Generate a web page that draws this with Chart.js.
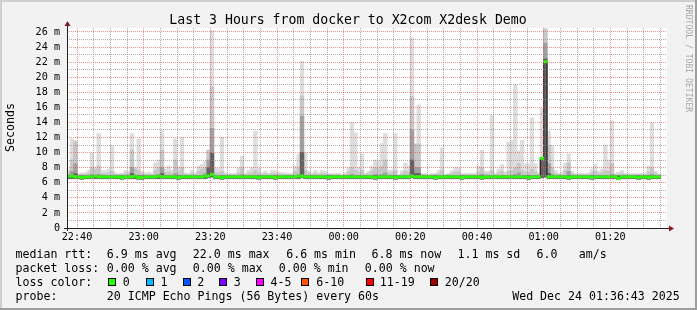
<!DOCTYPE html>
<html>
<head>
<meta charset="utf-8">
<title>Last 3 Hours from docker to X2com X2desk Demo</title>
<script src="https://cdn.jsdelivr.net/npm/chart.js@4.4.1/dist/chart.umd.min.js"></script>
<style>
  html, body { margin: 0; padding: 0; background: #f2f2f2; }
  canvas { display: block; }
</style>
</head>
<body>
<canvas id="smokeChart" width="697" height="310"></canvas>
<script>
'use strict';

// one value per 60 s step, minute 0 = 22:37
const pingMax = [
  7.8, 11.8, 11.6, 7.2, 7.3, 7.3, 7.6, 9.9, 8.1, 12.5,
  7.6, 7.6, 7.8, 10.9, 7.3, 7.2, 7.2, 7.6, 7.5, 12.5,
  8.0, 11.8, 7.5, 7.3, 7.4, 7.2, 8.6, 9.0, 12.9, 7.8,
  8.2, 7.7, 11.8, 8.1, 12.0, 7.3, 7.2, 7.6, 7.3, 8.2,
  8.4, 8.8, 10.3, 26.2, 7.9, 7.9, 12.0, 7.3, 7.2, 7.2,
  7.2, 7.9, 9.5, 7.2, 7.6, 8.0, 12.8, 7.9, 7.3, 7.5,
  7.2, 7.6, 7.6, 7.4, 7.3, 7.3, 7.2, 7.2, 8.2, 9.7,
  22.1, 10.0, 7.5, 7.3, 7.6, 7.3, 7.6, 7.5, 7.2, 7.2,
  7.2, 7.2, 7.0, 7.3, 8.0, 14.0, 12.6, 8.0, 9.8, 7.2,
  7.5, 8.2, 9.0, 9.0, 11.2, 12.5, 7.6, 7.7, 12.5, 7.0,
  7.6, 8.6, 8.2, 25.2, 11.1, 16.3, 7.2, 7.2, 7.1, 7.2,
  7.2, 7.6, 10.6, 7.1, 7.2, 7.6, 8.0, 8.0, 7.2, 7.2,
  7.2, 7.2, 7.2, 8.2, 10.3, 7.5, 7.5, 14.9, 7.2, 7.8,
  8.4, 7.4, 11.4, 11.6, 19.0, 10.2, 11.6, 8.5, 8.5, 14.6,
  8.5, 7.3, 15.9, 26.5, 12.8, 10.9, 7.6, 7.2, 7.4, 8.6,
  9.8, 7.5, 7.2, 7.2, 7.2, 7.2, 7.3, 7.8, 8.4, 7.5,
  7.8, 11.0, 9.0, 14.2, 7.2, 7.4, 7.6, 7.2, 7.2, 7.2,
  7.2, 7.2, 7.2, 7.2, 8.2, 13.9, 7.5, 7.2
];

const pingHigh2 = [
  7.3, 9.0, 11.4, 7.1, 7.1, 7.1, 7.2, 8.0, 7.7, 8.2,
  7.2, 7.2, 7.3, 7.5, 7.1, 7.1, 7.1, 7.2, 7.2, 10.3,
  7.8, 7.6, 7.2, 7.1, 7.1, 7.1, 7.6, 8.0, 10.3, 7.3,
  7.4, 7.2, 9.0, 7.4, 8.0, 7.1, 7.1, 7.2, 7.1, 7.5,
  7.8, 8.0, 10.3, 18.7, 7.3, 7.3, 7.5, 7.1, 7.1, 7.1,
  7.1, 7.3, 8.0, 7.1, 7.2, 7.3, 7.6, 7.3, 7.1, 7.2,
  7.1, 7.2, 7.2, 7.2, 7.1, 7.1, 7.1, 7.1, 7.5, 8.0,
  17.5, 7.6, 7.3, 7.1, 7.2, 7.1, 7.2, 7.2, 7.1, 7.1,
  7.1, 7.1, 7.0, 7.1, 7.4, 8.0, 7.6, 7.3, 7.6, 7.1,
  7.2, 7.5, 8.0, 7.8, 8.2, 9.0, 7.2, 7.3, 7.6, 7.0,
  7.2, 7.5, 7.4, 17.4, 11.1, 11.1, 7.1, 7.1, 7.0, 7.1,
  7.1, 7.2, 7.6, 7.0, 7.1, 7.2, 7.4, 7.4, 7.1, 7.1,
  7.1, 7.1, 7.1, 7.4, 8.0, 7.2, 7.2, 7.6, 7.1, 7.3,
  7.5, 7.1, 7.5, 7.6, 8.0, 8.5, 7.6, 7.4, 7.4, 7.8,
  7.4, 7.1, 9.3, 26.3, 11.0, 8.0, 7.2, 7.1, 7.1, 7.6,
  8.6, 7.2, 7.1, 7.1, 7.1, 7.1, 7.1, 7.3, 7.5, 7.2,
  7.3, 7.6, 7.5, 8.5, 7.1, 7.1, 7.2, 7.1, 7.1, 7.1,
  7.1, 7.1, 7.1, 7.1, 7.4, 8.0, 7.2, 7.1
];

const pingHigh3 = [
  6.95, 7.5, 8.5, 6.95, 6.95, 6.95, 6.95, 7.1, 6.95, 7.1,
  6.95, 6.95, 6.95, 6.95, 6.95, 6.95, 6.95, 6.95, 6.95, 8.0,
  7.0, 6.95, 6.95, 6.95, 6.95, 6.95, 6.95, 7.1, 8.0, 6.95,
  6.95, 6.95, 7.2, 6.95, 7.0, 6.95, 6.95, 6.95, 6.95, 6.95,
  7.0, 7.2, 9.0, 13.2, 6.95, 6.95, 6.95, 6.95, 6.95, 6.95,
  6.95, 6.95, 7.1, 6.95, 6.95, 6.95, 6.95, 6.95, 6.95, 6.95,
  6.95, 6.95, 6.95, 6.95, 6.95, 6.95, 6.95, 6.95, 6.95, 7.1,
  14.8, 6.95, 6.95, 6.95, 6.95, 6.95, 6.95, 6.95, 6.95, 6.95,
  6.95, 6.95, 6.95, 6.95, 6.95, 7.1, 6.95, 6.95, 6.95, 6.95,
  6.95, 6.95, 7.1, 7.0, 7.1, 7.3, 6.95, 6.95, 6.95, 6.95,
  6.95, 6.95, 6.95, 13.0, 8.0, 8.0, 6.95, 6.95, 6.95, 6.95,
  6.95, 6.95, 6.95, 6.95, 6.95, 6.95, 6.95, 6.95, 6.95, 6.95,
  6.95, 6.95, 6.95, 6.95, 7.1, 6.95, 6.95, 6.95, 6.95, 6.95,
  6.95, 6.95, 6.95, 6.95, 7.1, 7.3, 6.95, 6.95, 6.95, 6.95,
  6.95, 6.95, 9.3, 24.5, 8.5, 7.1, 6.95, 6.95, 6.95, 6.95,
  7.5, 6.95, 6.95, 6.95, 6.95, 6.95, 6.95, 6.95, 6.95, 6.95,
  6.95, 6.95, 6.95, 7.1, 6.95, 6.95, 6.95, 6.95, 6.95, 6.95,
  6.95, 6.95, 6.95, 6.95, 6.95, 7.1, 6.95, 6.95
];

const pingHigh4 = [
  6.9, 6.9, 7.2, 6.9, 6.9, 6.9, 6.9, 6.9, 6.9, 6.9,
  6.9, 6.9, 6.9, 6.9, 6.9, 6.9, 6.9, 6.9, 6.9, 7.2,
  6.9, 6.9, 6.9, 6.9, 6.9, 6.9, 6.9, 6.9, 7.2, 6.9,
  6.9, 6.9, 6.9, 6.9, 6.9, 6.9, 6.9, 6.9, 6.9, 6.9,
  6.9, 6.9, 8.0, 9.9, 6.9, 6.9, 6.9, 6.9, 6.9, 6.9,
  6.9, 6.9, 6.9, 6.9, 6.9, 6.9, 6.9, 6.9, 6.9, 6.9,
  6.9, 6.9, 6.9, 6.9, 6.9, 6.9, 6.9, 6.9, 6.9, 6.9,
  10.0, 6.9, 6.9, 6.9, 6.9, 6.9, 6.9, 6.9, 6.9, 6.9,
  6.9, 6.9, 6.9, 6.9, 6.9, 6.9, 6.9, 6.9, 6.9, 6.9,
  6.9, 6.9, 6.9, 6.9, 6.9, 6.9, 6.9, 6.9, 6.9, 6.9,
  6.9, 6.9, 6.9, 9.0, 7.2, 7.2, 6.9, 6.9, 6.9, 6.9,
  6.9, 6.9, 6.9, 6.9, 6.9, 6.9, 6.9, 6.9, 6.9, 6.9,
  6.9, 6.9, 6.9, 6.9, 6.9, 6.9, 6.9, 6.9, 6.9, 6.9,
  6.9, 6.9, 6.9, 6.9, 6.9, 6.9, 6.9, 6.9, 6.9, 6.9,
  6.9, 6.9, 9.3, 22.4, 7.2, 6.9, 6.9, 6.9, 6.9, 6.9,
  6.9, 6.9, 6.9, 6.9, 6.9, 6.9, 6.9, 6.9, 6.9, 6.9,
  6.9, 6.9, 6.9, 6.9, 6.9, 6.9, 6.9, 6.9, 6.9, 6.9,
  6.9, 6.9, 6.9, 6.9, 6.9, 6.9, 6.9, 6.9
];

const pingMin = [
  6.5, 6.5, 6.5, 6.5, 6.4, 6.5, 6.5, 6.5, 6.5, 6.5,
  6.5, 6.5, 6.5, 6.5, 6.5, 6.5, 6.4, 6.5, 6.5, 6.5,
  6.5, 6.4, 6.4, 6.5, 6.5, 6.5, 6.5, 6.5, 6.5, 6.5,
  6.5, 6.5, 6.5, 6.4, 6.5, 6.5, 6.5, 6.5, 6.5, 6.5,
  6.5, 6.5, 6.6, 6.7, 6.5, 6.5, 6.4, 6.5, 6.5, 6.5,
  6.5, 6.5, 6.5, 6.5, 6.5, 6.5, 6.5, 6.4, 6.5, 6.5,
  6.5, 6.5, 6.4, 6.5, 6.5, 6.5, 6.5, 6.5, 6.5, 6.5,
  6.6, 6.5, 6.5, 6.5, 6.5, 6.5, 6.5, 6.5, 6.4, 6.5,
  6.5, 6.5, 6.5, 6.5, 6.5, 6.5, 6.5, 6.5, 6.5, 6.5,
  6.5, 6.5, 6.4, 6.5, 6.5, 6.5, 6.5, 6.5, 6.4, 6.5,
  6.5, 6.5, 6.5, 6.6, 6.5, 6.5, 6.5, 6.5, 6.5, 6.5,
  6.4, 6.5, 6.5, 6.5, 6.5, 6.5, 6.5, 6.5, 6.4, 6.5,
  6.5, 6.5, 6.5, 6.5, 6.4, 6.5, 6.5, 6.5, 6.5, 6.5,
  6.5, 6.5, 6.5, 6.5, 6.5, 6.5, 6.5, 6.5, 6.4, 6.5,
  6.5, 6.5, 6.6, 6.7, 6.5, 6.5, 6.5, 6.5, 6.5, 6.5,
  6.4, 6.5, 6.5, 6.5, 6.5, 6.5, 6.5, 6.4, 6.5, 6.5,
  6.5, 6.5, 6.5, 6.5, 6.5, 6.4, 6.5, 6.5, 6.5, 6.5,
  6.5, 6.4, 6.5, 6.5, 6.4, 6.5, 6.5, 6.5
];

const pingCoreMin = [
  6.6, 6.6, 6.6, 6.6, 6.5, 6.6, 6.6, 6.6, 6.6, 6.6,
  6.6, 6.6, 6.6, 6.6, 6.6, 6.6, 6.5, 6.6, 6.6, 6.6,
  6.6, 6.5, 6.5, 6.6, 6.6, 6.6, 6.6, 6.6, 6.6, 6.6,
  6.6, 6.6, 6.6, 6.5, 6.6, 6.6, 6.6, 6.6, 6.6, 6.6,
  6.6, 6.6, 6.7, 6.8, 6.6, 6.6, 6.5, 6.6, 6.6, 6.6,
  6.6, 6.6, 6.6, 6.6, 6.6, 6.6, 6.6, 6.5, 6.6, 6.6,
  6.6, 6.6, 6.5, 6.6, 6.6, 6.6, 6.6, 6.6, 6.6, 6.6,
  6.7, 6.6, 6.6, 6.6, 6.6, 6.6, 6.6, 6.6, 6.5, 6.6,
  6.6, 6.6, 6.6, 6.6, 6.6, 6.6, 6.6, 6.6, 6.6, 6.6,
  6.6, 6.6, 6.5, 6.6, 6.6, 6.6, 6.6, 6.6, 6.5, 6.6,
  6.6, 6.6, 6.6, 6.7, 6.6, 6.6, 6.6, 6.6, 6.6, 6.6,
  6.5, 6.6, 6.6, 6.6, 6.6, 6.6, 6.6, 6.6, 6.5, 6.6,
  6.6, 6.6, 6.6, 6.6, 6.5, 6.6, 6.6, 6.6, 6.6, 6.6,
  6.6, 6.6, 6.6, 6.6, 6.6, 6.6, 6.6, 6.6, 6.5, 6.6,
  6.6, 6.6, 6.7, 6.8, 6.6, 6.6, 6.6, 6.6, 6.6, 6.6,
  6.5, 6.6, 6.6, 6.6, 6.6, 6.6, 6.6, 6.5, 6.6, 6.6,
  6.6, 6.6, 6.6, 6.6, 6.6, 6.5, 6.6, 6.6, 6.6, 6.6,
  6.6, 6.5, 6.6, 6.6, 6.5, 6.6, 6.6, 6.6
];

const medianRtt = [
  6.9, 6.9, 6.8, 6.8, 6.7, 6.8, 6.8, 6.8, 6.9, 6.8,
  6.8, 6.8, 6.8, 6.8, 6.8, 6.8, 6.7, 6.8, 6.8, 6.8,
  6.9, 6.7, 6.7, 6.8, 6.8, 6.8, 6.8, 6.9, 6.8, 6.8,
  6.8, 6.8, 6.8, 6.7, 6.8, 6.8, 6.8, 6.8, 6.8, 6.8,
  6.8, 6.9, 6.9, 7.1, 6.8, 6.8, 6.7, 6.8, 6.8, 6.8,
  6.8, 6.8, 6.8, 6.8, 6.8, 6.8, 6.8, 6.7, 6.8, 6.8,
  6.8, 6.8, 6.7, 6.8, 6.8, 6.8, 6.8, 6.8, 6.8, 6.9,
  6.9, 6.8, 6.8, 6.8, 6.8, 6.8, 6.8, 6.8, 6.7, 6.8,
  6.8, 6.8, 6.8, 6.8, 6.8, 6.8, 6.8, 6.8, 6.8, 6.8,
  6.8, 6.8, 6.7, 6.8, 6.8, 6.8, 6.8, 6.8, 6.7, 6.8,
  6.8, 6.8, 6.8, 6.9, 6.8, 6.8, 6.8, 6.8, 6.8, 6.8,
  6.7, 6.8, 6.8, 6.8, 6.8, 6.8, 6.8, 6.8, 6.7, 6.8,
  6.8, 6.8, 6.8, 6.8, 6.7, 6.8, 6.8, 6.8, 6.8, 6.8,
  6.8, 6.8, 6.8, 6.8, 6.8, 6.8, 6.8, 6.8, 6.7, 6.8,
  6.8, 6.8, 9.24, 22.05, 6.8, 6.8, 6.8, 6.8, 6.8, 6.8,
  6.7, 6.8, 6.8, 6.8, 6.8, 6.8, 6.8, 6.7, 6.8, 6.8,
  6.8, 6.8, 6.8, 6.8, 6.8, 6.6, 6.8, 6.8, 6.8, 6.8,
  6.8, 6.7, 6.8, 6.8, 6.7, 6.8, 6.8, 6.8
];

// x axis: minutes since 22:37, grid every 5 minutes, labels every 20
const gridMinutes = [3, 8, 13, 18, 23, 28, 33, 38, 43, 48, 53, 58, 63, 68, 73, 78, 83, 88,
  93, 98, 103, 108, 113, 118, 123, 128, 133, 138, 143, 148, 153, 158, 163, 168, 173, 178];
const majorMinutes = [3, 23, 43, 63, 83, 103, 123, 143, 163];
const timeLabels = ['22:40', '23:00', '23:20', '23:40', '00:00', '00:20', '00:40', '01:00', '01:20'];

// y axis: grid every 1 ms, labels every 2 ms
const yGridMs = [0, 1, 2, 3, 4, 5, 6, 7, 8, 9, 10, 11, 12, 13, 14, 15, 16, 17, 18, 19, 20, 21, 22, 23, 24, 25, 26];

const lossColors = ['#26ff00', '#00b8ff', '#0059ff', '#7e00ff', '#ff00ff', '#ff5500', '#ff0000', '#a00000'];
const lossLabels = ['0', '1', '2', '3', '4-5', '6-10', '11-19', '20/20'];

const W = 697, H = 310;
const MONO = '"DejaVu Sans Mono", monospace';
const GRID = 'rgba(143,143,143,0.75)';
const MGRID = 'rgba(222,79,79,0.6)';
const MEDIAN_HALF = 0.13;

const band = (lo, hi) => hi.map((v, i) => ({ x: i + 0.5, y: [lo[i], v] }));
const medianBars = medianRtt.map((v, i) => ({ x: i + 0.5, y: [v - MEDIAN_HALF, v + MEDIAN_HALF] }));
const medianSteps = medianRtt.map((v, i) => ({ x: i, y: v }));
medianSteps.push({ x: medianRtt.length, y: medianRtt[medianRtt.length - 1] });

const barCommon = { grouped: false, barPercentage: 1, categoryPercentage: 1, borderWidth: 0, inflateAmount: 0.5 };

const rrdFrame = {
  id: 'rrdFrame',
  beforeDraw(chart) {
    const { ctx, chartArea: a } = chart;
    ctx.save();
    ctx.fillStyle = '#f2f2f2';
    ctx.fillRect(0, 0, W, H);
    ctx.fillStyle = '#cfcfcf';
    ctx.fillRect(0, 0, W, 2);
    ctx.fillRect(0, 0, 2, H);
    ctx.fillStyle = '#9e9e9e';
    ctx.fillRect(0, H - 2, W, 2);
    ctx.fillRect(W - 2, 0, 2, H);
    ctx.fillStyle = '#ffffff';
    ctx.fillRect(a.left, a.top, a.right - a.left, a.bottom - a.top);
    ctx.restore();
  },
  afterDraw(chart) {
    const { ctx, chartArea: a } = chart;
    ctx.save();

    // axes with arrows
    ctx.strokeStyle = '#1f1f1f';
    ctx.lineWidth = 1;
    ctx.beginPath();
    ctx.moveTo(a.left - 3, a.bottom + 0.5);
    ctx.lineTo(a.right + 4, a.bottom + 0.5);
    ctx.moveTo(a.left + 0.5, a.bottom + 3);
    ctx.lineTo(a.left + 0.5, a.top - 4);
    ctx.stroke();
    ctx.fillStyle = '#801f1f';
    ctx.beginPath();
    ctx.moveTo(a.left - 2.5, a.top - 2);
    ctx.lineTo(a.left + 3.5, a.top - 2);
    ctx.lineTo(a.left + 0.5, a.top - 7);
    ctx.closePath();
    ctx.fill();
    ctx.beginPath();
    ctx.moveTo(a.right + 2, a.bottom - 2.5);
    ctx.lineTo(a.right + 2, a.bottom + 3.5);
    ctx.lineTo(a.right + 7, a.bottom + 0.5);
    ctx.closePath();
    ctx.fill();

    // title
    ctx.fillStyle = '#000';
    ctx.font = `13.2px ${MONO}`;
    ctx.textAlign = 'center';
    ctx.textBaseline = 'alphabetic';
    ctx.fillText('Last 3 Hours from docker to X2com X2desk Demo', 348, 24);

    // vertical unit label
    ctx.save();
    ctx.translate(11, 127.5);
    ctx.rotate(-Math.PI / 2);
    ctx.font = `11.6px ${MONO}`;
    ctx.textBaseline = 'middle';
    ctx.fillText('Seconds', 0, 0);
    ctx.restore();

    // watermark
    ctx.save();
    ctx.translate(688, 5);
    ctx.rotate(Math.PI / 2);
    ctx.font = `8.1px ${MONO}`;
    ctx.fillStyle = '#a8a8a8';
    ctx.textAlign = 'left';
    ctx.textBaseline = 'middle';
    ctx.fillText('RRDTOOL / TOBI OETIKER', 0, 0);
    ctx.restore();

    // legend block
    ctx.font = `11.6px ${MONO}`;
    ctx.textAlign = 'left';
    ctx.textBaseline = 'alphabetic';
    ctx.fillStyle = '#000';
    const rows = [
      [258.4, [['median rtt:', 15.5], ['6.9 ms avg', 106.8], ['22.0 ms max', 192.8], ['6.6 ms min', 286.2],
        ['6.8 ms now', 371.5], ['1.1 ms sd', 457.5], ['6.0', 536.5], ['am/s', 578.8]]],
      [272.2, [['packet loss:', 15.5], ['0.00 % avg', 106.8], ['0.00 % max', 192.8], ['0.00 % min', 278.8],
        ['0.00 % now', 364.8]]],
      [286.1, [['loss color:', 15.5]]],
      [300.0, [['probe:', 15.5], ['20 ICMP Echo Pings (56 Bytes) every 60s', 106.8],
        ['Wed Dec 24 01:36:43 2025', 512.2]]]
    ];
    rows.forEach(([y, items]) => items.forEach(([t, x]) => ctx.fillText(t, x, y)));

    const boxX = [108.3, 145.7, 182.7, 219.3, 256, 301.3, 366, 430.3];
    const textX = [122.8, 160.5, 197.2, 233.8, 270.5, 316.2, 379.8, 444.8];
    lossLabels.forEach((lbl, i) => {
      ctx.fillStyle = lossColors[i];
      ctx.fillRect(Math.round(boxX[i]), 278, 8, 8);
      ctx.strokeStyle = '#000';
      ctx.strokeRect(Math.round(boxX[i]) + 0.5, 278.5, 7, 7);
      ctx.fillStyle = '#000';
      ctx.fillText(lbl, textX[i], 286.1);
    });

    ctx.restore();
  }
};

new Chart(document.getElementById('smokeChart'), {
  type: 'bar',
  data: {
    datasets: [
      { ...barCommon, label: 'median', data: medianBars, backgroundColor: lossColors[0], order: 1 },
      { type: 'line', label: 'median line', data: medianSteps, stepped: true, borderColor: '#202020',
        borderWidth: 1, pointRadius: 0, fill: false, order: 2 },
      { ...barCommon, label: 'smoke 4', data: band(pingCoreMin, pingHigh4), backgroundColor: '#626262', order: 3 },
      { ...barCommon, label: 'smoke 3', data: band(pingCoreMin, pingHigh3), backgroundColor: '#a0a0a0', order: 4 },
      { ...barCommon, label: 'smoke 2', data: band(pingCoreMin, pingHigh2), backgroundColor: '#c6c6c6', order: 5 },
      { ...barCommon, label: 'smoke 1', data: band(pingMin, pingMax), backgroundColor: '#dddddd', order: 6 }
    ]
  },
  options: {
    responsive: false,
    animation: false,
    devicePixelRatio: 1,
    layout: { padding: { left: 0, top: 28, right: 30, bottom: 0 } },
    plugins: { legend: { display: false }, tooltip: { enabled: false } },
    scales: {
      x: {
        type: 'linear',
        min: 0,
        max: 180,
        offset: false,
        afterBuildTicks: s => { s.ticks = gridMinutes.map(v => ({ value: v })); },
        afterFit: s => { s.height = 82; },
        ticks: {
          autoSkip: false,
          maxRotation: 0,
          padding: 3,
          color: '#000',
          font: { family: MONO, size: 10.15 },
          callback: v => {
            const k = majorMinutes.indexOf(v);
            return k >= 0 ? timeLabels[k] : '';
          }
        },
        grid: {
          offset: false,
          drawTicks: false,
          z: 1,
          lineWidth: 1,
          color: c => (c.tick && majorMinutes.includes(c.tick.value) ? MGRID : GRID)
        },
        border: { display: false, dash: [1, 1] }
      },
      y: {
        min: 0,
        max: 26.53,
        afterBuildTicks: s => { s.ticks = yGridMs.map(v => ({ value: v })); },
        afterFit: s => { s.width = 67; },
        ticks: {
          autoSkip: false,
          padding: 7,
          color: '#000',
          font: { family: MONO, size: 10.15 },
          callback: v => (v === 0 ? '0' : v % 2 === 0 ? `${v} m` : '')
        },
        grid: {
          drawTicks: false,
          z: 1,
          lineWidth: 1,
          color: c => (c.tick && c.tick.value % 2 === 0 ? MGRID : GRID)
        },
        border: { display: false, dash: [1, 1] }
      }
    }
  },
  plugins: [rrdFrame]
});
</script>
</body>
</html>
